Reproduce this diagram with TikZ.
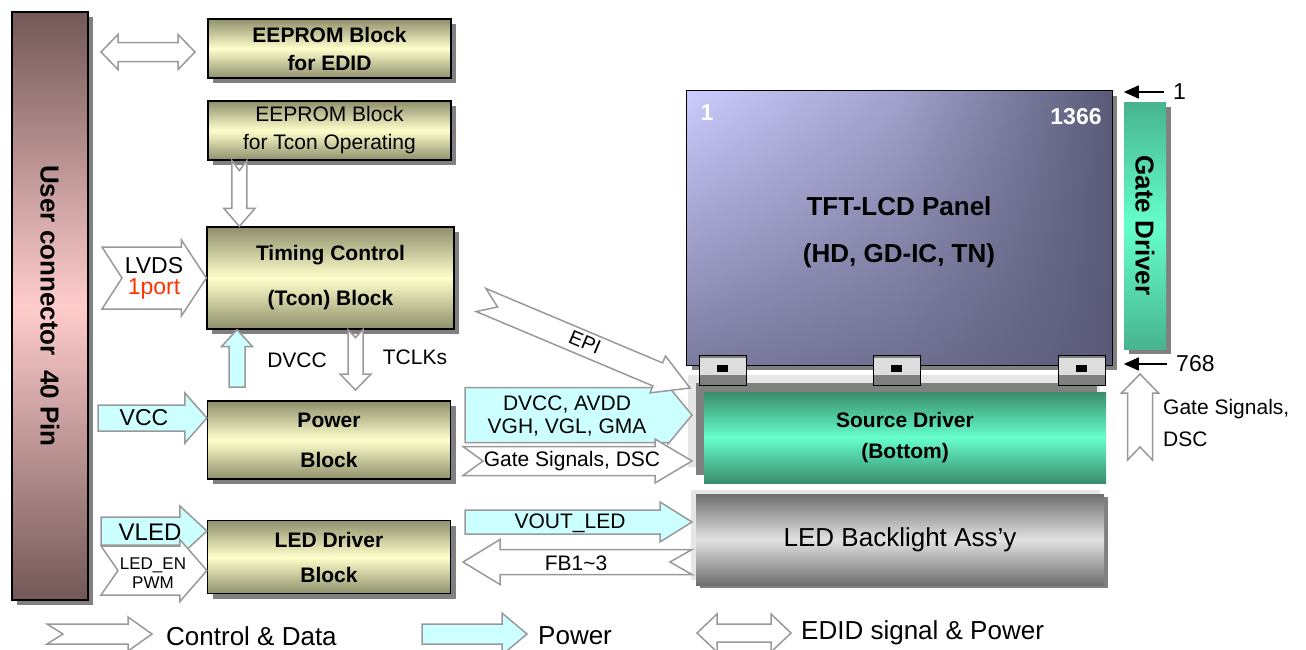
\documentclass[tikz,border=0pt]{standalone}
\usepackage{fontspec}
\setmainfont{Liberation Sans}
\usetikzlibrary{calc, shadows, arrows.meta, fadings}
\definecolor{blkmid}{HTML}{FFFFCC}
\definecolor{blkedge}{HTML}{8F8F6C}
\definecolor{conedge}{HTML}{735858}
\definecolor{conmid}{HTML}{FFCCCC}
\definecolor{pwrcyan}{HTML}{CCFFFF}
\definecolor{arrgray}{HTML}{999999}
\definecolor{shadowgray}{HTML}{808080}
\definecolor{mint}{HTML}{66FFCC}
\definecolor{srcedge}{HTML}{3A8C6E}
\definecolor{gateedge}{HTML}{47B48E}
\definecolor{panellight}{HTML}{CCCCFF}
\definecolor{panelmid}{HTML}{A2A2CC}
\definecolor{paneldark}{HTML}{5A5A78}
\definecolor{framegray}{HTML}{E6E6E6}
\definecolor{cofgray}{HTML}{DDDDDD}
\definecolor{bldark}{HTML}{6E6E6E}
\definecolor{blmid}{HTML}{E2E2E2}
\definecolor{portred}{HTML}{FF3300}

\newcommand\fsz[1]{\fontsize{#1}{#1}\selectfont}

% block arrow: tail, tip, body half width, head half width, head length, tail notch
\newcommand\blockarrow[7][]{%
  \draw[#1] let \p1=(#2), \p2=(#3), \n1={veclen(\x2-\x1,\y2-\y1)},
      \n2={(\x2-\x1)/\n1}, \n3={(\y2-\y1)/\n1}, \n4={\n1-#6} in
    ({\x1-\n3*#4},{\y1+\n2*#4})
    -- ({\x1+\n2*\n4-\n3*#4},{\y1+\n3*\n4+\n2*#4})
    -- ({\x1+\n2*\n4-\n3*#5},{\y1+\n3*\n4+\n2*#5})
    -- (\p2)
    -- ({\x1+\n2*\n4+\n3*#5},{\y1+\n3*\n4-\n2*#5})
    -- ({\x1+\n2*\n4+\n3*#4},{\y1+\n3*\n4-\n2*#4})
    -- ({\x1+\n3*#4},{\y1-\n2*#4})
    -- ({\x1+\n2*#7},{\y1+\n3*#7})
    -- cycle;}

% double block arrow: end, end, body half width, head half width, head length
\newcommand\dblarrow[6][]{%
  \draw[#1] let \p1=(#2), \p2=(#3), \n1={veclen(\x2-\x1,\y2-\y1)},
      \n2={(\x2-\x1)/\n1}, \n3={(\y2-\y1)/\n1}, \n4={\n1-#6} in
    (\p1)
    -- ({\x1+\n2*#6-\n3*#5},{\y1+\n3*#6+\n2*#5})
    -- ({\x1+\n2*#6-\n3*#4},{\y1+\n3*#6+\n2*#4})
    -- ({\x1+\n2*\n4-\n3*#4},{\y1+\n3*\n4+\n2*#4})
    -- ({\x1+\n2*\n4-\n3*#5},{\y1+\n3*\n4+\n2*#5})
    -- (\p2)
    -- ({\x1+\n2*\n4+\n3*#5},{\y1+\n3*\n4-\n2*#5})
    -- ({\x1+\n2*\n4+\n3*#4},{\y1+\n3*\n4-\n2*#4})
    -- ({\x1+\n2*#6+\n3*#4},{\y1+\n3*#6-\n2*#4})
    -- ({\x1+\n2*#6+\n3*#5},{\y1+\n3*#6-\n2*#5})
    -- cycle;}

\tikzset{
  shadowed/.style={drop shadow={shadow xshift=5pt, shadow yshift=-5pt, fill=shadowgray, opacity=1}},
  blockbox/.style={draw=black, line width=1.2pt, shadowed, top color=blkedge, bottom color=blkedge,
    middle color=blkmid, minimum width=243pt, inner sep=0pt, align=center, font=\fsz{21}},
  ctrlarrow/.style={fill=white, draw=arrgray, line width=1.5pt},
  pwrarrow/.style={fill=pwrcyan, draw=arrgray, line width=1.5pt},
  lbl/.style={font=\fsz{21}, inner sep=0pt},
}

\begin{document}
\begin{tikzpicture}[x=1pt, y=-1pt]
    \useasboundingbox (0,0) rectangle (1306,649);

    % User connector
    \node[draw=black, line width=1.2pt, shadowed, top color=conedge, bottom color=conedge, middle color=conmid,
      minimum width=76pt, minimum height=588pt, inner sep=0pt] (conn) at (50,306) {};
    \node[rotate=-90, font=\fsz{26}\bfseries] (connlbl) at (conn.center) {User connector\ \ 40 Pin};

    % Left blocks
    \node[blockbox, minimum height=59pt, font=\fsz{21}\bfseries] (edid) at (329.5,48.5) {EEPROM Block\\[7pt]for EDID};
    \node[blockbox, minimum height=59pt] (tconop) at (329.5,130.5) {EEPROM Block\\[7pt]for Tcon Operating};
    \node[blockbox, minimum width=247pt, minimum height=102pt, font=\fsz{21}\bfseries] (tcon) at (330.5,278) {Timing Control\\[24pt](Tcon) Block};
    \node[blockbox, minimum height=78pt, font=\fsz{21}\bfseries] (power) at (329,440) {Power\\[19pt]Block};
    \node[blockbox, minimum height=73pt, font=\fsz{21}\bfseries] (leddrv) at (329,557) {LED Driver\\[14pt]Block};

    % TFT-LCD panel
    \node[shadowed, left color=panellight, right color=paneldark, middle color=panelmid,
      minimum width=425pt, minimum height=274pt, inner sep=0pt] (panel) at (899.5,228) {};
    \fill[paneldark, path fading=north, fill opacity=0.7] (panel.south west) rectangle (panel.north east);
    \draw[black, line width=1.2pt] (panel.south west) rectangle (panel.north east);
    \node[align=center, font=\fsz{26}\bfseries] (paneltxt) at (899,232) {TFT-LCD Panel\\[21pt](HD, GD-IC, TN)};
    \node[font=\fsz{23}\bfseries, text=white, inner sep=0pt] (pixfirst) at (707,113) {1};
    \node[font=\fsz{23}\bfseries, text=white, inner sep=0pt] (pixlast) at (1076,117) {1366};

    % Source driver
    \fill[framegray] (688,375) rectangle (1100,467);
    \fill[shadowgray] (696,383) rectangle (1097,475);
    \node[top color=srcedge, bottom color=srcedge, middle color=mint, minimum width=402pt, minimum height=91pt,
      inner sep=0pt, align=center, font=\fsz{21}\bfseries] (source) at (905,437.5) {Source Driver\\[10pt](Bottom)};
    \foreach \cx in {699,873,1058}{
      \fill[shadowgray] (\cx,355) rectangle (\cx+47,385);
      \fill[cofgray] (\cx,358) rectangle (\cx+47,375);
      \fill[black] (\cx+18,365) rectangle (\cx+29,372);
      \draw[black, line width=1pt] (\cx,355) rectangle (\cx+47,385);
    }

    % Gate driver
    \node[shadowed, top color=gateedge, bottom color=gateedge, middle color=mint, minimum width=42pt,
      minimum height=247pt, inner sep=0pt] (gatedrv) at (1145,225.5) {};
    \node[rotate=-90, font=\fsz{26}\bfseries] (gatelbl) at (gatedrv.center) {Gate Driver};
    \coordinate (tickfirst) at (1164,92);
    \coordinate (ticklast) at (1167,364);
    \draw[-{Triangle[length=15pt,width=13pt]}, line width=1.5pt] (tickfirst) -- (tickfirst -| gatedrv.west);
    \draw[-{Triangle[length=15pt,width=13pt]}, line width=1.5pt] (ticklast) -- (ticklast -| gatedrv.west);
    \node[font=\fsz{23}, anchor=west, inner sep=0pt] (tickfirstlbl) at (1173,92) {1};
    \node[font=\fsz{23}, anchor=west, inner sep=0pt] (ticklastlbl) at (1176,364) {768};

    % LED backlight
    \fill[framegray] (691,490) rectangle (1100,580);
    \node[drop shadow={shadow xshift=4pt, shadow yshift=-3pt, fill=shadowgray, opacity=1},
      top color=bldark, bottom color=bldark, middle color=blmid, minimum width=408pt, minimum height=91pt,
      inner sep=0pt, font=\fsz{26}] (backlight) at (900,539.5) {LED Backlight Ass’y};

    % Arrows on the left
    \coordinate (edidL) at (101,52);
    \coordinate (edidR) at (195,52);
    \dblarrow[ctrlarrow]{edidL}{edidR}{9.5}{17.5}{17}
    \coordinate (opdown) at ($(tconop.south west)+(32,0)$);
    \blockarrow[ctrlarrow]{opdown}{opdown |- tcon.north}{7.5}{15.5}{18}{10}
    \coordinate (lvds) at (102,278);
    \blockarrow[ctrlarrow]{lvds}{tcon.west}{31}{38}{25}{20}
    \node[font=\fontsize{23}{21}\selectfont, align=center, inner sep=0pt] (lvdslbl) at (154,278.5) {LVDS\\\textcolor{portred}{1port}};
    \coordinate (dvcc) at (237,387);
    \blockarrow[pwrarrow]{dvcc}{dvcc |- tcon.south}{8}{15.5}{17}{0}
    \node[lbl] (dvcclbl) at (297,360) {DVCC};
    \coordinate (tclk) at (355.5,390);
    \blockarrow[ctrlarrow]{tclk |- tcon.south}{tclk}{7.5}{15.5}{16}{8}
    \node[lbl] (tclklbl) at (415,357) {TCLKs};
    \coordinate (vcc) at (98,418);
    \blockarrow[pwrarrow]{vcc}{power.west |- vcc}{13}{25}{22}{0}
    \node[lbl, font=\fsz{23}] (vcclbl) at (144,418) {VCC};
    \coordinate (vled) at (101,531);
    \blockarrow[pwrarrow]{vled}{leddrv.west |- vled}{14}{25}{27}{0}
    \coordinate (leden) at (101,570.5);
    \blockarrow[ctrlarrow]{leden}{leddrv.west |- leden}{24.5}{31}{27}{17}
    \node[lbl, font=\fsz{24}] (vledlbl) at (150,532) {VLED};
    \node[font=\fontsize{17}{19}\selectfont, align=center, inner sep=0pt] (ledenlbl) at (153,573) {LED\_EN\\PWM};

    % Arrows to the panel side
    \coordinate (pwrbusL) at (465,415);
    \coordinate (pwrbusR) at (692,415);
    \blockarrow[pwrarrow]{pwrbusL}{pwrbusR}{27.5}{29}{24}{0}
    \node[font=\fontsize{21}{23}\selectfont, align=center, inner sep=0pt] (pwrbuslbl) at (567,416) {DVCC, AVDD\\VGH, VGL, GMA};
    \coordinate (gsigL) at (463,461);
    \coordinate (gsigR) at (692,461);
    \blockarrow[ctrlarrow]{gsigL}{gsigR}{14.5}{22}{37}{20}
    \node[lbl] (gsiglbl) at (572,461) {Gate Signals, DSC};
    \coordinate (epiL) at (481,300);
    \coordinate (epiR) at (690,388);
    \blockarrow[ctrlarrow]{epiL}{epiR}{12.5}{20}{35}{18}
    \node[lbl, font=\fsz{20}, rotate=-22.8] (epilbl) at (585,342) {EPI};
    \coordinate (voutL) at (465,522);
    \coordinate (voutR) at (692,522);
    \blockarrow[pwrarrow]{voutL}{voutR}{12}{20}{32}{0}
    \node[lbl] (voutlbl) at (570,523) {VOUT\_LED};
    \coordinate (fbR) at (692,562);
    \coordinate (fbL) at (463,562);
    \blockarrow[ctrlarrow]{fbR}{fbL}{12.5}{22.5}{37}{22}
    \node[lbl] (fblbl) at (576,563) {FB1\textasciitilde3};

    % Gate signals to the gate driver
    \coordinate (gupB) at (1140,460);
    \coordinate (gupT) at (1140,374);
    \blockarrow[ctrlarrow]{gupB}{gupT}{12.5}{18.5}{19}{13}
    \node[font=\fontsize{21}{32}\selectfont, align=left, anchor=west, inner sep=0pt] (guplbl) at (1163,423) {Gate Signals,\\DSC};

    % Legend
    \coordinate (legctrlL) at (47,634);
    \coordinate (legctrlR) at (152,634);
    \blockarrow[ctrlarrow]{legctrlL}{legctrlR}{10}{17}{24}{16}
    \node[font=\fsz{26}, anchor=west, inner sep=0pt] (legctrl) at (166,636) {Control \& Data};
    \coordinate (legpwrL) at (422,634);
    \coordinate (legpwrR) at (527,634);
    \blockarrow[pwrarrow]{legpwrL}{legpwrR}{10}{21}{25}{0}
    \node[font=\fsz{26}, anchor=west, inner sep=0pt] (legpwr) at (538,636) {Power};
    \coordinate (legedidL) at (697,633);
    \coordinate (legedidR) at (791,633);
    \dblarrow[ctrlarrow]{legedidL}{legedidR}{9}{19}{20}
    \node[font=\fsz{26}, anchor=west, inner sep=0pt] (legedid) at (801,633) {EDID signal \& Power};
\end{tikzpicture}
\end{document}
